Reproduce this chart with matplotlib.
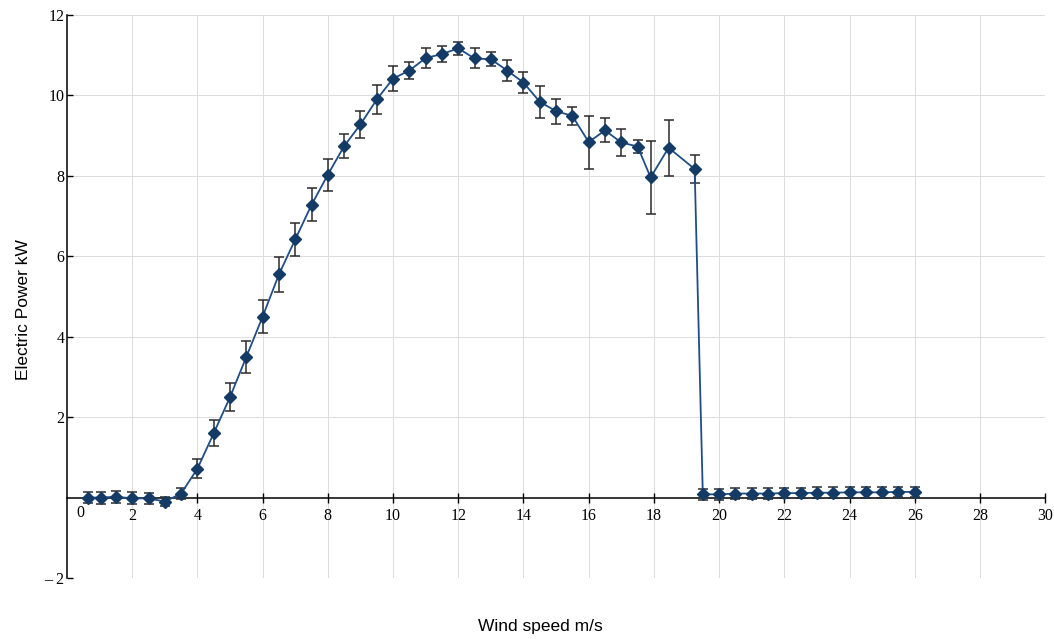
import matplotlib.pyplot as plt

# wind speed (m/s), mean electric power (kW) and error half-width (kW)
wind = [0.65, 1.05, 1.5, 2.0, 2.5, 3.0, 3.5, 4.0, 4.5, 5.0,
        5.5, 6.0, 6.5, 7.0, 7.5, 8.0, 8.5, 9.0, 9.5, 10.0,
        10.5, 11.0, 11.5, 12.0, 12.5, 13.0, 13.5, 14.0, 14.5, 15.0,
        15.5, 16.0, 16.5, 17.0, 17.5, 17.9, 18.45, 19.25,
        19.5, 20.0, 20.5, 21.0, 21.5, 22.0, 22.5, 23.0, 23.5, 24.0,
        24.5, 25.0, 25.5, 26.0]
power = [0.0, 0.0, 0.02, -0.02, -0.02, -0.1, 0.1, 0.72, 1.6, 2.5,
         3.5, 4.5, 5.55, 6.42, 7.28, 8.03, 8.74, 9.28, 9.9, 10.42,
         10.62, 10.93, 11.03, 11.17, 10.92, 10.9, 10.62, 10.32, 9.84, 9.61,
         9.49, 8.84, 9.13, 8.83, 8.73, 7.96, 8.7, 8.17,
         0.08, 0.08, 0.1, 0.1, 0.1, 0.11, 0.11, 0.12, 0.12, 0.13,
         0.13, 0.13, 0.14, 0.14]
err = [0.14, 0.15, 0.15, 0.15, 0.14, 0.12, 0.13, 0.23, 0.32, 0.34,
       0.4, 0.41, 0.44, 0.42, 0.41, 0.4, 0.3, 0.34, 0.36, 0.32,
       0.21, 0.24, 0.2, 0.16, 0.25, 0.17, 0.25, 0.26, 0.4, 0.31,
       0.22, 0.66, 0.3, 0.34, 0.16, 0.9, 0.7, 0.35,
       0.13, 0.13, 0.13, 0.13, 0.13, 0.13, 0.13, 0.13, 0.13, 0.13,
       0.13, 0.13, 0.13, 0.13]

xticks = list(range(2, 31, 2))
yticks = [-2, 2, 4, 6, 8, 10, 12]

fig = plt.figure(figsize=(10.54, 6.39), dpi=100)
ax = fig.add_axes([0.0636, 0.0955, 0.928, 0.881])

ax.errorbar(wind, power, yerr=err, fmt='none', ecolor='#2b2b2b',
            elinewidth=1.1, capsize=3.5, capthick=1.1, zorder=3)
ax.plot(wind, power, '-', color='#1f4e85', lw=1.3, zorder=4)
ax.plot(wind, power, 'D', color='#143a66', ms=6, zorder=5)

ax.set_xlim(0, 30)
ax.set_ylim(-2, 12)
ax.set_xticks(xticks)
ax.set_yticks(yticks)
ax.set_yticklabels(['\u2013 2' if t < 0 else str(t) for t in yticks])
ax.grid(True, color='#dcdcdc', lw=0.7)
ax.set_axisbelow(True)

for s in ['top', 'right']:
    ax.spines[s].set_visible(False)
ax.spines['bottom'].set_position(('data', 0))
ax.spines['left'].set_position(('data', 0))
ax.spines['bottom'].set_linewidth(1.1)
ax.spines['left'].set_linewidth(1.1)

ax.tick_params(axis='x', direction='inout', length=7, width=1, pad=4)
ax.tick_params(axis='y', direction='in', length=4, width=1, pad=2)
for lab in ax.get_xticklabels() + ax.get_yticklabels():
    lab.set_fontfamily('Liberation Serif')
    lab.set_fontsize(11.5)
ax.text(0.3, -0.18, '0', ha='left', va='top', fontsize=11.5,
        fontfamily='Liberation Serif')

fig.text(0.022, 0.515, 'Electric Power kW', rotation=90, ha='center', va='center',
         fontsize=12.5, fontfamily='Liberation Sans')
fig.text(0.513, 0.02, 'Wind speed m/s', ha='center', va='center',
         fontsize=12.5, fontfamily='Liberation Sans')

fig.savefig('out.png', dpi=100)
